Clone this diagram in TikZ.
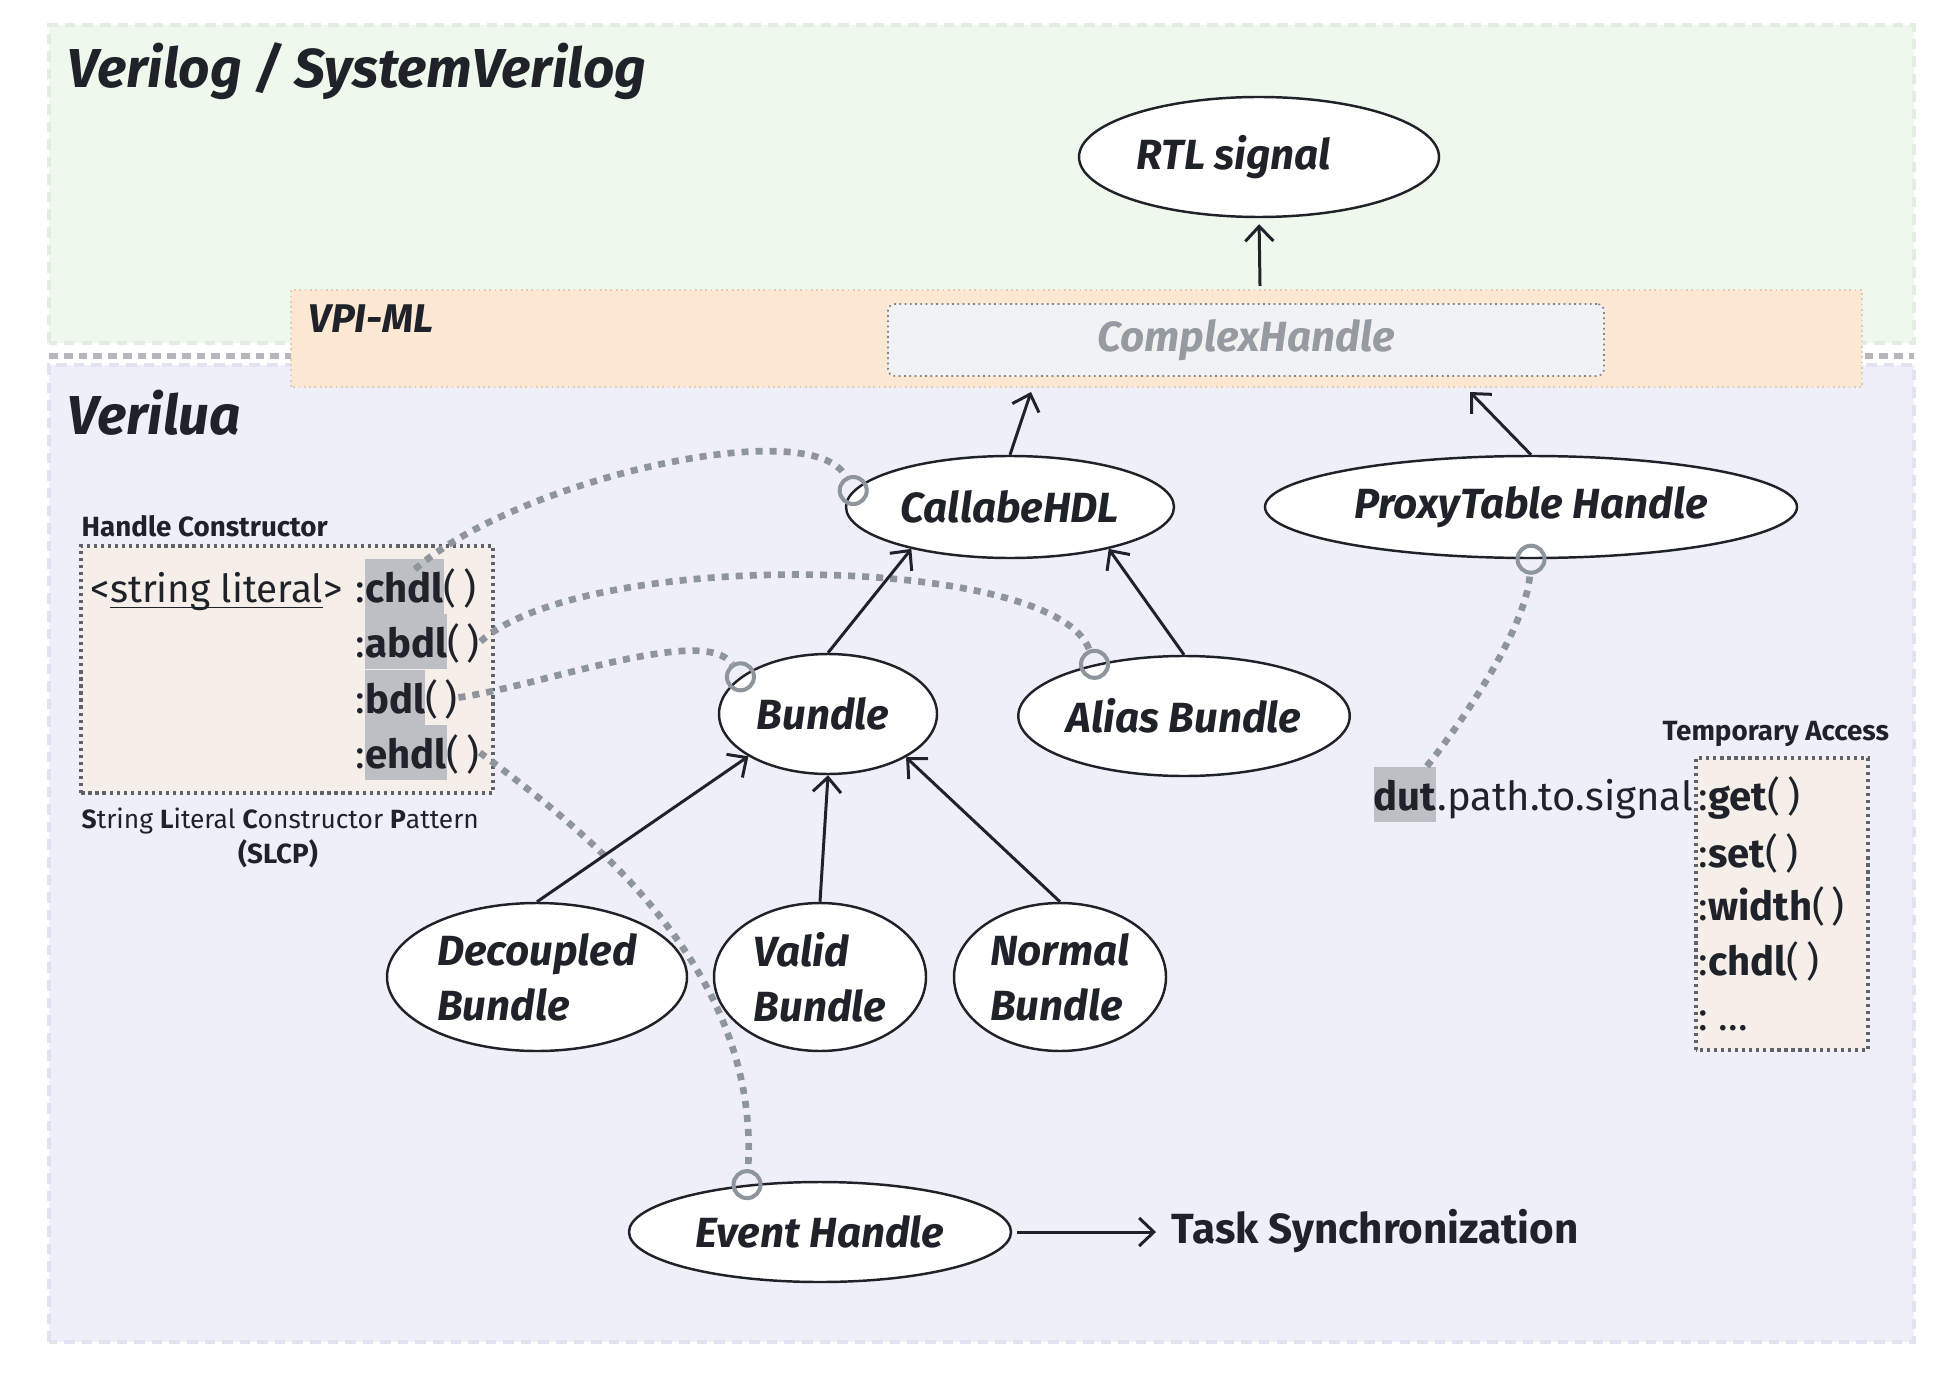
\documentclass[tikz,border=0pt]{standalone}
\usepackage{fontspec}
\setmainfont{Fira Sans}
\usetikzlibrary{shapes.geometric,arrows.meta}

\definecolor{ink}{RGB}{31,35,41}
\definecolor{linkgray}{RGB}{143,149,156}
\definecolor{svfill}{RGB}{239,248,236}
\definecolor{svline}{RGB}{226,238,223}
\definecolor{luafill}{RGB}{239,239,250}
\definecolor{lualine}{RGB}{226,227,241}
\definecolor{vpifill}{RGB}{253,233,211}
\definecolor{vpiline}{RGB}{228,204,176}
\definecolor{chfill}{RGB}{241,242,244}
\definecolor{chline}{RGB}{130,133,138}
\definecolor{chtext}{RGB}{150,154,161}
\definecolor{boxfill}{RGB}{246,238,232}
\definecolor{boxline}{RGB}{95,98,104}
\definecolor{hlgray}{RGB}{188,191,196}
\definecolor{sepgray}{RGB}{181,183,188}

% highlighted word, tall enough to join the rows
\newcommand{\hlw}[1]{{\setlength{\fboxsep}{0pt}\colorbox{hlgray}{\rule[-0.12cm]{0pt}{0.55cm}\bfseries #1}}}
% underline sitting close to the baseline
\newcommand{\lowul}[1]{\leavevmode\rlap{\rule[-0.06cm]{\widthof{#1}}{0.4pt}}#1}
\usepackage{calc}

\begin{document}
\begin{tikzpicture}[
			every node/.style={text=ink, inner sep=0pt},
			blob/.style={ellipse, draw=ink, line width=0.7pt, fill=white, align=left,
				font=\fontsize{12}{15.6}\selectfont\bfseries\itshape},
			arr/.style={draw=ink, line width=0.85pt, -{Straight Barb[length=4.2pt,width=8pt]}},
			link/.style={draw=linkgray, line width=1.9pt, dash pattern=on 2pt off 2pt},
			hook/.style={circle, draw=linkgray, line width=1.15pt, minimum size=0.27cm},
			title/.style={anchor=base west, font=\fontsize{15.6}{18}\selectfont\bfseries\itshape},
			small/.style={anchor=base west, font=\fontsize{7.5}{9}\selectfont},
			smallbold/.style={anchor=base west, font=\fontsize{7.9}{9}\selectfont\bfseries},
			code/.style={anchor=base west, font=\fontsize{11}{15.6}\selectfont},
			codewide/.style={anchor=base west, font=\fontsize{11.4}{15.6}\selectfont}
		]
		\useasboundingbox (0,0) rectangle (19.58,13.76);
		\fill[white] (0,0) rectangle (19.58,13.76);

		% Regions
		\draw[svline, fill=svfill, line width=1.4pt, dash pattern=on 3pt off 2pt] (0.49,10.33) rectangle (19.14,13.51);
		\draw[lualine, fill=luafill, line width=1.4pt, dash pattern=on 3pt off 2pt] (0.49,0.34) rectangle (19.14,10.11);
		\draw[sepgray, line width=1.5pt, dash pattern=on 2.5pt off 1.7pt] (0.49,10.20) -- (19.14,10.20);
		\draw[vpiline, fill=vpifill, line width=0.5pt, densely dotted] (2.91,9.89) rectangle (18.62,10.86);

		\node[title] (svtitle) at (0.67,12.88) {Verilog / SystemVerilog};
		\node[title] (luatitle) at (0.67,9.41) {Verilua};
		\node[title, font=\fontsize{11.4}{14}\selectfont\bfseries\itshape] (vpititle) at (3.08,10.43) {VPI-ML};

		% Nodes
		\node[draw=chline, fill=chfill, line width=0.5pt, densely dotted, rounded corners=2pt,
			minimum width=7.16cm, minimum height=0.72cm, text=chtext,
			font=\fontsize{12}{14}\selectfont\bfseries\itshape] (complex) at (12.46,10.36) {\raisebox{-0.04cm}{ComplexHandle}};

		\node[blob, minimum width=3.60cm, minimum height=1.20cm] (rtl) at (12.59,12.19) {\raisebox{-0.04cm}{RTL signal}\hspace*{0.5cm}};
		\node[blob, minimum width=3.28cm, minimum height=1.02cm] (callable) at (10.10,8.69) {CallabeHDL};
		\node[blob, minimum width=5.32cm, minimum height=1.02cm] (proxy) at (15.31,8.69) {ProxyTable Handle};
		\node[blob, minimum width=2.18cm, minimum height=1.20cm] (bundle) at (8.28,6.62) {Bundle\hspace*{0.1cm}};
		\node[blob, minimum width=3.30cm, minimum height=1.20cm] (alias) at (11.84,6.60) {Alias Bundle};
		\node[blob, minimum width=3.00cm, minimum height=1.48cm] (decoupled) at (5.37,3.99) {Decoupled\\Bundle};
		\node[blob, minimum width=2.12cm, minimum height=1.48cm] (valid) at (8.20,3.99) {Valid\\Bundle};
		\node[blob, minimum width=2.12cm, minimum height=1.48cm] (normal) at (10.60,3.99) {Normal\\Bundle};
		\node[blob, minimum width=3.82cm, minimum height=1.00cm] (event) at (8.20,1.44) {Event Handle};
		\node[anchor=base west, font=\fontsize{12}{14}\selectfont\bfseries] (task) at (11.71,1.33) {Task Synchronization};

		% Handle constructor
		\node[smallbold] (hclabel) at (0.81,8.40) {Handle Constructor};
		\draw[boxline, fill=boxfill, line width=0.9pt, dash pattern=on 0.9pt off 1.1pt] (0.81,5.83) rectangle (4.93,8.30);
		\node[code] (strlit) at (0.90,7.74) {<\lowul{string literal}>};
		\node[codewide] (rchdl) at (3.55,7.74) {:\hlw{chdl}(\,)};
		\node[codewide] (rabdl) at (3.55,7.19) {:\hlw{abdl}(\,)};
		\node[codewide] (rbdl) at (3.55,6.63) {:\hlw{bdl}(\,)};
		\node[codewide] (rehdl) at (3.55,6.08) {:\hlw{ehdl}(\,)};
		\node[small] (slcp) at (0.81,5.48) {\textbf{S}tring \textbf{L}iteral \textbf{C}onstructor \textbf{P}attern};
		\node[smallbold, anchor=base] (slcpabbr) at (2.78,5.13) {(SLCP)};

		% Temporary access
		\node[smallbold] (talabel) at (16.62,6.36) {Temporary Access};
		\draw[boxline, fill=boxfill, line width=0.9pt, dash pattern=on 0.9pt off 1.1pt] (16.96,3.26) rectangle (18.68,6.18);
		\node[codewide] (tget) at (16.98,5.66) {:\textbf{get}(\,)};
		\node[codewide] (tset) at (16.98,5.09) {:\textbf{set}(\,)};
		\node[codewide] (twidth) at (16.98,4.56) {:\textbf{width}(\,)};
		\node[codewide] (tchdl) at (16.98,4.01) {:\textbf{chdl}(\,)};
		\node[codewide] (tmore) at (16.98,3.46) {:~...};
		\node[codewide] (dut) at (13.73,5.66) {\hlw{dut}};
		\node[codewide] (sigpath) at (dut.base east) {.path.to.signal};

		% Hooks
		\node[hook] (hkcall) at (callable.174) {};
		\node[hook] (hkalias) at (alias.150) {};
		\node[hook] (hkbundle) at (bundle.157) {};
		\node[hook] (hkevent) at (event.147) {};
		\node[hook] (hkproxy) at (proxy.south) {};

		% Links
		\draw[link] ([xshift=-0.62cm,yshift=-0.11cm]rchdl.north east) .. controls (5.16,8.96) and (8.12,9.64) .. (hkcall);
		\draw[link] (rabdl.east) .. controls (5.86,8.28) and (10.55,8.22) .. (hkalias);
		\draw[link] (rbdl.east) .. controls (5.40,6.90) and (7.05,7.52) .. (hkbundle);
		\draw[link] (rehdl.east) .. controls (5.78,5.50) and (7.61,4.13) .. (hkevent);
		\draw[link] ([xshift=-0.1cm]dut.north east) .. controls (14.63,6.55) and (15.26,7.48) .. (hkproxy);

		% Connections
		\coordinate (rtlfoot) at (12.60,10.90);
		\coordinate (callin) at (10.31,9.84);
		\coordinate (proxyin) at (14.70,9.84);
		\draw[arr, shorten >=0.06cm] (rtlfoot) -- (rtl.south);
		\draw[arr] (callable.north) -- (callin);
		\draw[arr] (proxy.north) -- (proxyin);
		\draw[arr] (bundle.north) -- (callable.203);
		\draw[arr] (alias.north) -- (callable.337);
		\draw[arr] (decoupled.north) -- (bundle.208);
		\draw[arr] (valid.north) -- (bundle.south);
		\draw[arr] (normal.north) -- (bundle.331);
		\draw[arr, shorten <=0.05cm, shorten >=0.15cm] (event.east) -- (event.east -| task.west);
	\end{tikzpicture}
\end{document}
